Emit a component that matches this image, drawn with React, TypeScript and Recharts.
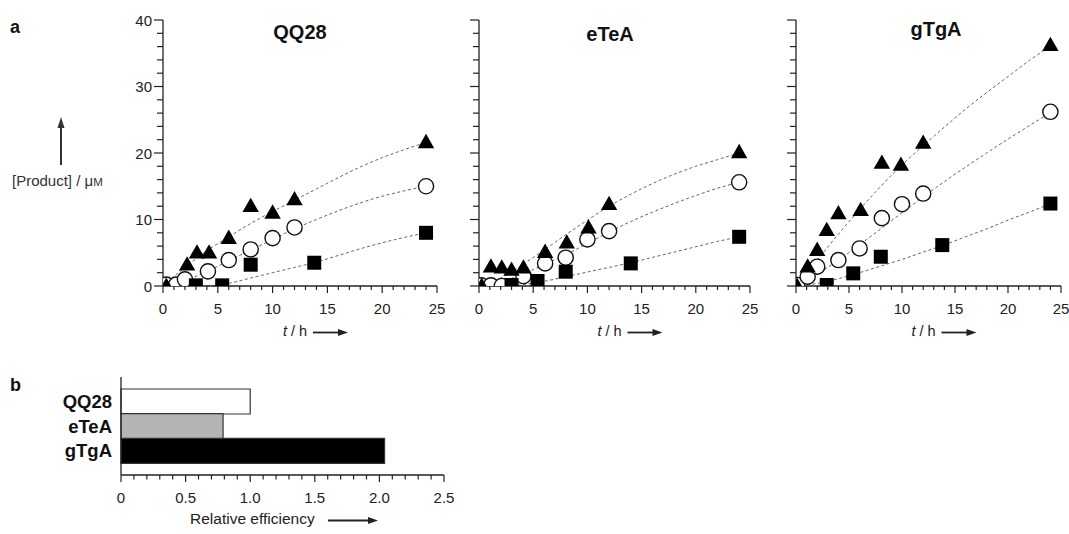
import React from 'react';
import { ComposedChart, Scatter, Line, XAxis, YAxis, BarChart, Bar, Cell } from 'recharts';

const FONT = 'Liberation Sans, Arial, Helvetica, sans-serif';

// time points of the fitted curves (h)
const FIT_T = [0, 2, 4, 6, 8, 10, 12, 14, 16, 18, 20, 22, 24];
const X_TICKS = [0, 1, 2, 3, 4, 5, 6, 7, 8, 9, 10, 11, 12, 13, 14, 15, 16, 17, 18, 19, 20, 21, 22, 23, 24, 25];
const Y_TICKS = [0, 2, 4, 6, 8, 10, 12, 14, 16, 18, 20, 22, 24, 26, 28, 30, 32, 34, 36, 38, 40];

// ---- QQ28 ----
const QQ28_TRI_T = [0.3, 2.2, 3.1, 4.2, 6.0, 8.0, 10.0, 12.0, 24.0];
const QQ28_TRI_Y = [0.0, 3.2, 5.0, 5.0, 7.2, 12.0, 11.0, 13.0, 21.6];
const QQ28_CIRC_T = [0.3, 1.2, 2.0, 4.1, 6.0, 8.0, 10.0, 12.0, 24.0];
const QQ28_CIRC_Y = [0.2, 0.2, 1.0, 2.2, 3.9, 5.5, 7.2, 8.8, 15.0];
const QQ28_SQ_T = [3.0, 5.4, 8.0, 13.8, 24.0];
const QQ28_SQ_Y = [0.1, 0.1, 3.2, 3.5, 8.0];
const QQ28_TRI_FIT = [0, 2.8, 5.3, 7.4, 9.4, 11.2, 12.9, 14.6, 16.3, 17.9, 19.3, 20.5, 21.6];
const QQ28_CIRC_FIT = [0, 0.8, 2.2, 3.8, 5.4, 7.0, 8.6, 10.0, 11.3, 12.5, 13.5, 14.3, 15.0];
const QQ28_SQ_FIT = [0, 0, 0, 0.4, 1.2, 2.0, 2.8, 3.6, 4.6, 5.6, 6.5, 7.3, 8.0];

// ---- eTeA ----
const ETEA_TRI_T = [0.25, 1.1, 2.1, 3.0, 4.1, 6.1, 8.1, 10.1, 12.0, 24.0];
const ETEA_TRI_Y = [0.0, 2.9, 2.75, 2.4, 2.75, 5.1, 6.5, 8.75, 12.3, 20.1];
const ETEA_CIRC_T = [0.2, 1.1, 2.1, 4.1, 6.1, 8.0, 10.0, 12.0, 24.0];
const ETEA_CIRC_Y = [0.1, 0.1, 0.0, 1.5, 3.4, 4.25, 7.0, 8.25, 15.6];
const ETEA_SQ_T = [3.0, 5.4, 8.0, 14.0, 24.0];
const ETEA_SQ_Y = [0.15, 0.75, 2.15, 3.4, 7.4];
const ETEA_TRI_FIT = [0, 1.2, 3.2, 5.4, 7.7, 9.9, 12.0, 13.8, 15.4, 16.8, 18.0, 19.0, 20.0];
const ETEA_CIRC_FIT = [0, 0.6, 1.8, 3.2, 4.7, 6.4, 8.1, 9.7, 11.1, 12.4, 13.6, 14.7, 15.6];
const ETEA_SQ_FIT = [0, 0, 0.2, 0.7, 1.4, 2.1, 2.8, 3.5, 4.3, 5.1, 5.9, 6.7, 7.4];

// ---- gTgA ----
const GTGA_TRI_T = [0.1, 1.1, 2.0, 2.9, 4.0, 6.1, 8.1, 9.9, 12.0, 24.0];
const GTGA_TRI_Y = [0.0, 2.9, 5.4, 8.4, 10.9, 11.4, 18.5, 18.2, 21.5, 36.2];
const GTGA_CIRC_T = [0.1, 1.1, 2.0, 4.0, 6.0, 8.1, 10.0, 12.0, 24.0];
const GTGA_CIRC_Y = [0.15, 1.4, 2.9, 3.9, 5.65, 10.2, 12.3, 13.9, 26.2];
const GTGA_SQ_T = [2.9, 5.4, 8.0, 13.8, 24.0];
const GTGA_SQ_Y = [0.15, 1.9, 4.4, 6.15, 12.4];
const GTGA_TRI_FIT = [0, 3.9, 7.8, 11.5, 15.0, 18.2, 21.1, 23.9, 26.6, 29.1, 31.5, 33.9, 36.1];
const GTGA_CIRC_FIT = [0, 1.8, 3.9, 6.2, 8.6, 11.0, 13.4, 15.7, 17.9, 20.0, 22.1, 24.1, 26.1];
const GTGA_SQ_FIT = [0, 0.4, 1.1, 2.0, 3.0, 4.0, 5.1, 6.2, 7.4, 8.6, 9.9, 11.1, 12.4];

// ---- panel b ----
const BAR_NAMES = ['QQ28', 'eTeA', 'gTgA'];
const BAR_VALUES = [1.0, 0.79, 2.04];
const BAR_FILLS = ['#ffffff', '#b4b4b4', '#000000'];
const BAR_TICKS = [0, 0.1, 0.2, 0.3, 0.4, 0.5, 0.6, 0.7, 0.8, 0.9, 1.0, 1.1, 1.2, 1.3, 1.4, 1.5, 1.6, 1.7, 1.8, 1.9, 2.0, 2.1, 2.2, 2.3, 2.4, 2.5];

const zip = (t: number[], y: number[]) => t.map((v, i) => ({ x: v, y: y[i] }));

const Tri = (p: any) => {
  const { cx, cy } = p;
  if (cx == null || cy == null) return null;
  return <polygon points={`${cx},${cy - 8.5} ${cx - 8.2},${cy + 5.8} ${cx + 8.2},${cy + 5.8}`} fill="#000" />;
};
const Circ = (p: any) => {
  const { cx, cy } = p;
  if (cx == null || cy == null) return null;
  return <circle cx={cx} cy={cy} r={7.6} fill="#fff" stroke="#111" strokeWidth={1.4} />;
};
const Sq = (p: any) => {
  const { cx, cy } = p;
  if (cx == null || cy == null) return null;
  return <rect x={cx - 7} y={cy - 7} width={14} height={14} fill="#000" />;
};

const XTick = (p: any) => {
  const { x, y, payload } = p;
  const v = payload.value;
  const major = v % 5 === 0;
  return (
    <g>
      <line x1={x} x2={x} y1={y} y2={y + (major ? 7 : 4)} stroke="#222" strokeWidth={1.2} />
      {major && (
        <text x={x} y={y + 28} textAnchor="middle" fontSize={15} fontFamily={FONT} fill="#222">
          {v}
        </text>
      )}
    </g>
  );
};

const makeYTick = (showLabels: boolean) => (p: any) => {
  const { x, y, payload } = p;
  const v = payload.value;
  const major = v % 10 === 0;
  return (
    <g>
      <line x1={x} x2={x - (major ? 9 : 6)} y1={y} y2={y} stroke="#222" strokeWidth={1.2} />
      {showLabels && major && (
        <text x={x - 11} y={y + 5.5} textAnchor="end" fontSize={15} fontFamily={FONT} fill="#222">
          {v}
        </text>
      )}
    </g>
  );
};

const XLabel = (p: any) => {
  const vb = p.viewBox;
  if (!vb) return null;
  const c = vb.x + vb.width / 2;
  const y = vb.y + 50;
  return (
    <g>
      <text x={c - 17} y={y} fontSize={14.5} fontFamily={FONT} fill="#222">
        <tspan fontStyle="italic">t</tspan> / h
      </text>
      <line x1={c + 13} x2={c + 40} y1={y - 3.5} y2={y - 3.5} stroke="#222" strokeWidth={1.8} />
      <polygon points={`${c + 48},${y - 3.5} ${c + 38},${y - 7} ${c + 38},${y}`} fill="#222" />
    </g>
  );
};

type PanelProps = {
  left: number; width: number; plotLeft: number; plotWidth: number; showYLabels: boolean;
  tri: { x: number; y: number }[]; circ: { x: number; y: number }[]; sq: { x: number; y: number }[];
  triFit: { x: number; y: number }[]; circFit: { x: number; y: number }[]; sqFit: { x: number; y: number }[];
};

function Panel(props: PanelProps) {
  const { left, width, plotLeft, plotWidth, showYLabels, tri, circ, sq, triFit, circFit, sqFit } = props;
  const H = 345;
  const fitStyle = { stroke: '#666', strokeWidth: 1, strokeDasharray: '3 2.5' };
  return (
    <div style={{ position: 'absolute', left, top: 0 }}>
      <ComposedChart
        width={width}
        height={H}
        margin={{ top: 20, right: width - plotLeft - plotWidth, bottom: H - 286 - 1, left: plotLeft - 1 }}
      >
        <XAxis
          type="number"
          dataKey="x"
          domain={[0, 25]}
          ticks={X_TICKS}
          interval={0}
          height={1}
          tickSize={0}
          tickMargin={0}
          tickLine={false}
          tick={XTick}
          axisLine={{ stroke: '#222', strokeWidth: 1.3 }}
          allowDataOverflow
          label={{ content: XLabel }}
        />
        <YAxis
          type="number"
          dataKey="y"
          domain={[0, 40]}
          ticks={Y_TICKS}
          interval={0}
          width={1}
          tickSize={0}
          tickMargin={0}
          tickLine={false}
          tick={makeYTick(showYLabels)}
          axisLine={{ stroke: '#222', strokeWidth: 1.3 }}
          allowDataOverflow
        />
        <Line data={triFit} dataKey="y" type="monotone" {...fitStyle} dot={false} activeDot={false} isAnimationActive={false} />
        <Line data={circFit} dataKey="y" type="monotone" {...fitStyle} dot={false} activeDot={false} isAnimationActive={false} />
        <Line data={sqFit} dataKey="y" type="monotone" {...fitStyle} dot={false} activeDot={false} isAnimationActive={false} />
        <Scatter data={circ} dataKey="y" shape={Circ} isAnimationActive={false} />
        <Scatter data={tri} dataKey="y" shape={Tri} isAnimationActive={false} />
        <Scatter data={sq} dataKey="y" shape={Sq} isAnimationActive={false} />
      </ComposedChart>
    </div>
  );
}

const BarXTick = (p: any) => {
  const { x, y, payload } = p;
  const v = payload.value;
  const major = Math.abs(v * 2 - Math.round(v * 2)) < 1e-6;
  return (
    <g>
      <line x1={x} x2={x} y1={y} y2={y + (major ? 7 : 4.5)} stroke="#222" strokeWidth={1.2} />
      {major && (
        <text x={x} y={y + 28} textAnchor="middle" fontSize={15} fontFamily={FONT} fill="#222">
          {v === 0 ? '0' : v.toFixed(1)}
        </text>
      )}
    </g>
  );
};

const BarYTick = (p: any) => {
  const { x, y, payload } = p;
  return (
    <text x={x - 9} y={y + 6.5} textAnchor="end" fontSize={18.5} fontWeight="bold" fontFamily={FONT} fill="#111">
      {payload.value}
    </text>
  );
};

const BarXLabel = (p: any) => {
  const vb = p.viewBox;
  if (!vb) return null;
  const y = vb.y + 49;
  return (
    <g>
      <text x={190} y={y} fontSize={15.5} fontFamily={FONT} fill="#222">Relative efficiency</text>
      <line x1={328} x2={370} y1={y - 3.5} y2={y - 3.5} stroke="#222" strokeWidth={1.8} />
      <polygon points={`378,${y - 3.5} 368,${y - 7} 368,${y}`} fill="#222" />
    </g>
  );
};

export default function App() {
  const barData = BAR_NAMES.map((n, i) => ({ name: n, value: BAR_VALUES[i] }));
  const fit = (ys: number[]) => zip(FIT_T, ys);
  return (
    <div style={{ position: 'absolute', left: 0, top: 0, width: 1069, height: 534, background: '#fff', overflow: 'hidden' }}>
      <Panel
        left={100} width={370} plotLeft={63} plotWidth={274} showYLabels
        tri={zip(QQ28_TRI_T, QQ28_TRI_Y)} circ={zip(QQ28_CIRC_T, QQ28_CIRC_Y)} sq={zip(QQ28_SQ_T, QQ28_SQ_Y)}
        triFit={fit(QQ28_TRI_FIT)} circFit={fit(QQ28_CIRC_FIT)} sqFit={fit(QQ28_SQ_FIT)}
      />
      <Panel
        left={440} width={340} plotLeft={39} plotWidth={271} showYLabels={false}
        tri={zip(ETEA_TRI_T, ETEA_TRI_Y)} circ={zip(ETEA_CIRC_T, ETEA_CIRC_Y)} sq={zip(ETEA_SQ_T, ETEA_SQ_Y)}
        triFit={fit(ETEA_TRI_FIT)} circFit={fit(ETEA_CIRC_FIT)} sqFit={fit(ETEA_SQ_FIT)}
      />
      <Panel
        left={760} width={309} plotLeft={36} plotWidth={265} showYLabels={false}
        tri={zip(GTGA_TRI_T, GTGA_TRI_Y)} circ={zip(GTGA_CIRC_T, GTGA_CIRC_Y)} sq={zip(GTGA_SQ_T, GTGA_SQ_Y)}
        triFit={fit(GTGA_TRI_FIT)} circFit={fit(GTGA_CIRC_FIT)} sqFit={fit(GTGA_SQ_FIT)}
      />
      <div style={{ position: 'absolute', left: 0, top: 360 }}>
        <BarChart
          layout="vertical"
          width={480}
          height={174}
          data={barData}
          margin={{ top: 17, right: 36, bottom: 58, left: 120 }}
          barCategoryGap={0}
        >
          <XAxis
            type="number"
            domain={[0, 2.5]}
            ticks={BAR_TICKS}
            interval={0}
            height={1}
            tickSize={0}
            tickMargin={0}
            tickLine={false}
            tick={BarXTick}
            axisLine={{ stroke: '#222', strokeWidth: 1.3 }}
            label={{ content: BarXLabel }}
          />
          <YAxis
            type="category"
            dataKey="name"
            width={1}
            tickSize={0}
            tickMargin={0}
            tickLine={false}
            tick={BarYTick}
            interval={0}
            axisLine={{ stroke: '#222', strokeWidth: 1.3 }}
            padding={{ top: 12, bottom: 12 }}
          />
          <Bar dataKey="value" stroke="#333" strokeWidth={1.2} isAnimationActive={false}>
            {barData.map((d, i) => (
              <Cell key={d.name} fill={BAR_FILLS[i]} />
            ))}
          </Bar>
        </BarChart>
      </div>
      <svg width={1069} height={534} style={{ position: 'absolute', left: 0, top: 0, pointerEvents: 'none' }}>
        <text x={10} y={33} fontSize={18} fontWeight="bold" fontFamily={FONT} fill="#111">a</text>
        <text x={10} y={391} fontSize={18} fontWeight="bold" fontFamily={FONT} fill="#111">b</text>
        <text x={300} y={39} textAnchor="middle" fontSize={20} fontWeight="bold" fontFamily={FONT} fill="#111">QQ28</text>
        <text x={610} y={41} textAnchor="middle" fontSize={20} fontWeight="bold" fontFamily={FONT} fill="#111">eTeA</text>
        <text x={936} y={36} textAnchor="middle" fontSize={20} fontWeight="bold" fontFamily={FONT} fill="#111">gTgA</text>
        <line x1={61} x2={61} y1={165} y2={127} stroke="#333" strokeWidth={2} />
        <polygon points="61,117 57.5,128 64.5,128" fill="#333" />
        <text x={12} y={186} fontSize={15} fontFamily={FONT} fill="#333">
          [Product] / μ<tspan fontSize={11.5}>M</tspan>
        </text>
      </svg>
    </div>
  );
}
